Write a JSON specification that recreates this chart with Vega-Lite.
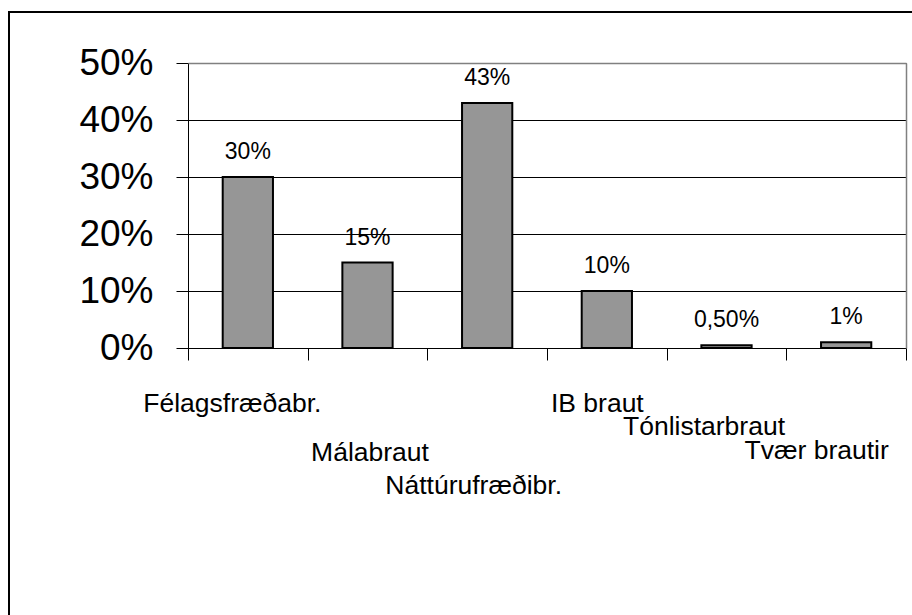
{
  "$schema": "https://vega.github.io/schema/vega-lite/v6.json",
  "width": 911,
  "height": 612,
  "autosize": "none",
  "padding": {"left": 9, "top": 12, "right": -8, "bottom": -9},
  "background": "white",
  "config": {
    "view": {"stroke": "black", "strokeWidth": 2},
    "font": "Liberation Sans"
  },
  "data": {
    "values": [
      {"cat": "Félagsfræðabr.", "value": 30, "label": "30%"},
      {"cat": "Málabraut", "value": 15, "label": "15%"},
      {"cat": "Náttúrufræðibr.", "value": 43, "label": "43%"},
      {"cat": "IB braut", "value": 10, "label": "10%"},
      {"cat": "Tónlistarbraut", "value": 0.5, "label": "0,50%"},
      {"cat": "Tvær brautir", "value": 1, "label": "1%"}
    ]
  },
  "layer": [
    {
      "mark": {"type": "bar", "width": {"band": 0.42}, "fill": "#969696", "stroke": "black", "strokeWidth": 2},
      "encoding": {
        "x": {
          "field": "cat", "type": "nominal", "sort": null,
          "scale": {"type": "band", "range": [179, 897], "paddingInner": 0, "paddingOuter": 0},
          "axis": {
            "orient": "bottom", "offset": -276, "title": null, "grid": false,
            "tickBand": "extent", "tickSize": 12, "tickColor": "black", "tickWidth": 1,
            "domainColor": "black", "domainWidth": 1,
            "labelAngle": 0, "labelFontSize": 26.5, "labelColor": "black", "labelFont": "Liberation Sans",
            "labelBaseline": "alphabetic", "labelOverlap": false, "labelBound": false, "labelLimit": 0, "labelFlush": false,
            "labelPadding": {"expr": "datum.value == 'Málabraut' ? 100 : datum.value == 'Náttúrufræðibr.' ? 133 : datum.value == 'Tónlistarbraut' ? 74 : datum.value == 'Tvær brautir' ? 98 : 51"},
            "labelOffset": {"expr": "datum.value == 'Félagsfræðabr.' ? -16 : datum.value == 'Málabraut' ? 2 : datum.value == 'Náttúrufræðibr.' ? -14 : datum.value == 'IB braut' ? -10 : datum.value == 'Tónlistarbraut' ? -23 : -30"}
          }
        },
        "y": {
          "field": "value", "type": "quantitative",
          "scale": {"domain": [0, 50], "range": [336, 51], "nice": false, "zero": true},
          "axis": {
            "orient": "left", "offset": -179, "title": null,
            "values": [0, 10, 20, 30, 40, 50], "labelExpr": "datum.value + '%'",
            "tickSize": 12, "tickColor": "black", "tickWidth": 1,
            "domainColor": "black", "domainWidth": 1,
            "labelFontSize": 37, "labelColor": "black", "labelFont": "Liberation Sans",
            "labelPadding": 23, "labelFlush": false, "labelBound": false,
            "grid": true, "gridColor": "black", "gridWidth": 1, "gridOpacity": 1
          }
        }
      }
    },
    {
      "mark": {"type": "text", "dy": -18, "baseline": "alphabetic", "align": "center", "fontSize": 23, "font": "Liberation Sans", "color": "black"},
      "encoding": {
        "x": {
          "field": "cat", "type": "nominal", "sort": null,
          "axis": {"orient": "top", "offset": -51, "title": null, "grid": false, "ticks": false, "labels": false, "domainColor": "#808080", "domainWidth": 1.5, "zindex": 1}
        },
        "y": {
          "field": "value", "type": "quantitative",
          "axis": {"orient": "right", "offset": -14, "title": null, "grid": false, "ticks": false, "labels": false, "domainColor": "#808080", "domainWidth": 1.5, "zindex": 1}
        },
        "text": {"field": "label"}
      }
    }
  ],
  "resolve": {"axis": {"x": "independent", "y": "independent"}}
}
